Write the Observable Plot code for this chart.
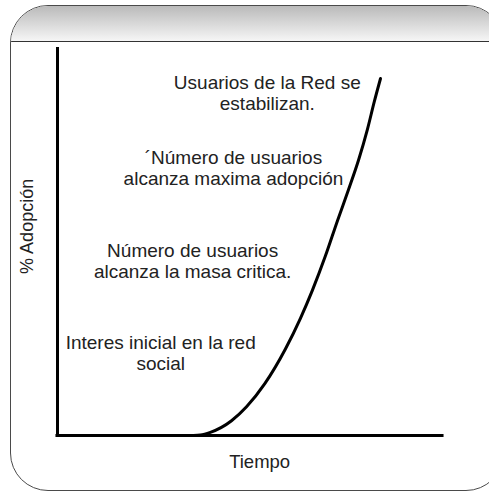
<!DOCTYPE html>
<html>
<head>
<meta charset="utf-8">
<script src="https://cdn.jsdelivr.net/npm/d3@7"></script>
<script src="https://cdn.jsdelivr.net/npm/@observablehq/plot@0.6"></script>
<style>
  html, body { margin: 0; padding: 0; background: #ffffff; overflow: hidden; }
  #wrap { position: relative; width: 489px; height: 493px; overflow: hidden; font-family: "Liberation Sans", Arial, sans-serif; }
  #frame { position: absolute; left: 10px; top: 5px; width: 494px; height: 486px; box-sizing: border-box;
           border: 1.5px solid #4a4a4a; border-radius: 38px; overflow: hidden; background: #fff; }
  #header { height: 35px; background: linear-gradient(#bababa, #f6f6f6); border-bottom: 1.5px solid #333; }
  #chart { position: absolute; left: 0; top: 0; }
  #chart svg { background: transparent; }
</style>
</head>
<body>
<div id="wrap">
  <div id="frame"><div id="header"></div></div>
  <div id="chart"></div>
</div>
<script>
// Curve: time (0-100) vs % adoption (0-100)
const tiempo   = [35.3, 37.1, 39.7, 45.2, 49.1, 53.8, 59.2, 63.1, 66.2, 69.6, 72.7, 75.6, 78.2, 80.5, 82.3, 83.9];
const adopcion = [0.0,  0.1,  0.8,  3.8,  7.4,  13.3, 22.3, 30.2, 37.4, 46.3, 55.3, 63.4, 71.0, 78.9, 86.1, 92.0];

// Annotations
const notas = [
  "Usuarios de la Red se\nestabilizan.",
  "´Número de usuarios\nalcanza maxima adopción",
  "Número de usuarios\nalcanza la masa critica.",
  "Interes inicial en la red\nsocial"
];
const notaTiempo   = [54.5, 45.7, 35.1, 26.8];
const notaAdopcion = [88.4, 69.1, 45.1, 21.4];

const xLabel = "Tiempo";
const yLabel = "% Adopción";

const curva = tiempo.map((t, i) => ({t, a: adopcion[i]}));
const anot = notas.map((s, i) => ({s, t: notaTiempo[i], a: notaAdopcion[i]}));

const chart = Plot.plot({
  width: 489,
  height: 493,
  marginLeft: 57,
  marginRight: 47,
  marginTop: 47,
  marginBottom: 58,
  x: {domain: [0, 100], axis: null},
  y: {domain: [0, 100], axis: null},
  style: {fontFamily: "'Liberation Sans', Arial, sans-serif", background: "transparent"},
  marks: [
    Plot.line(curva, {x: "t", y: "a", curve: "monotone-x", stroke: "#000", strokeWidth: 3}),
    Plot.ruleX([0], {stroke: "#000", strokeWidth: 3}),
    Plot.ruleY([0], {stroke: "#000", strokeWidth: 3, x1: -0.4, x2: 100.4}),
    Plot.text(anot, {x: "t", y: "a", text: "s", textAnchor: "middle", lineAnchor: "middle",
                     lineHeight: 1.12, fontSize: 19, fill: "#222"}),
    Plot.text([xLabel], {x: 52.5, frameAnchor: "bottom", textAnchor: "middle", lineAnchor: "middle",
                         dy: 27, fontSize: 18.5, fill: "#222", text: d => d}),
    Plot.text([yLabel], {y: 53.9, frameAnchor: "left", textAnchor: "middle", lineAnchor: "middle",
                         dx: -30, rotate: -90, fontSize: 18, fill: "#222", text: d => d})
  ]
});
document.getElementById("chart").appendChild(chart);
</script>
</body>
</html>
